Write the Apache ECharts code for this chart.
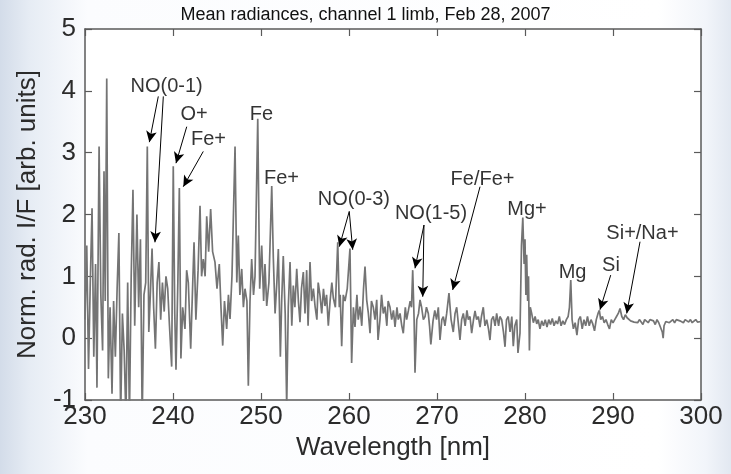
<!DOCTYPE html>
<html>
<head>
<meta charset="utf-8">
<script src="https://cdn.jsdelivr.net/npm/echarts@6/dist/echarts.min.js"></script>
<style>
html,body{margin:0;padding:0;}
#chart{width:731px;height:474px;}
</style>
</head>
<body>
<div id="chart"></div>
<script>
// Wavelength [nm] and normalised radiance
const wavelength = [
230.00,230.20,230.40,230.60,230.80,231.00,231.20,231.36,231.60,231.80,232.00,232.16,232.30,232.47,232.65,232.85,233.07,233.25,233.45,233.65,
233.85,234.05,234.25,234.45,234.65,234.85,235.05,235.25,235.45,235.65,235.90,236.10,236.30,236.50,236.70,236.90,237.08,237.25,237.45,237.62,
237.80,238.00,238.20,238.40,238.60,238.80,239.00,239.20,239.40,239.60,239.85,240.03,240.20,240.34,240.55,240.72,240.90,241.10,241.36,241.55,
241.74,242.01,242.20,242.39,242.60,242.85,243.07,243.25,243.44,243.65,243.83,244.05,244.28,244.50,244.77,245.00,245.26,245.45,245.65,245.85,
246.10,246.30,246.48,246.70,247.05,247.25,247.42,247.60,247.81,248.00,248.18,248.40,248.56,248.75,248.94,249.15,249.32,249.63,249.85,250.08,
250.30,250.45,250.65,250.90,251.22,251.40,251.60,251.80,251.97,252.20,252.35,252.53,252.75,252.92,253.10,253.30,253.50,253.67,253.85,254.06,
254.25,254.43,254.60,254.81,255.00,255.19,255.35,255.57,255.75,255.95,256.14,256.35,256.50,256.70,256.90,257.10,257.27,257.45,257.65,257.85,
258.05,258.22,258.45,258.72,258.90,259.00,259.17,259.35,259.55,259.80,260.11,260.30,260.50,260.68,260.90,261.05,261.25,261.45,261.65,261.82,
262.01,262.20,262.39,262.55,262.76,262.95,263.15,263.30,263.52,263.70,263.90,264.09,264.30,264.45,264.66,264.85,265.05,265.23,265.45,265.60,
265.80,266.00,266.17,266.40,266.55,266.74,266.95,267.10,267.24,267.40,267.50,267.70,267.90,268.07,268.25,268.45,268.64,268.80,269.01,269.15,
269.30,269.55,269.75,269.95,270.15,270.34,270.55,270.72,270.90,271.10,271.36,271.60,271.85,272.05,272.24,272.45,272.61,272.80,272.99,273.20,
273.40,273.56,273.75,273.94,274.15,274.32,274.50,274.70,274.89,275.05,275.26,275.45,275.65,275.85,276.02,276.20,276.40,276.60,276.78,277.00,
277.15,277.35,277.55,277.73,277.90,278.10,278.30,278.50,278.67,278.85,279.06,279.20,279.43,279.60,279.75,279.90,280.00,280.10,280.19,280.30,
280.40,280.50,280.60,280.76,280.95,281.15,281.33,281.50,281.70,281.90,282.10,282.30,282.50,282.70,282.90,283.10,283.30,283.50,283.70,283.90,
284.10,284.30,284.50,284.70,284.90,285.05,285.20,285.35,285.50,285.70,285.90,286.10,286.30,286.50,286.70,286.90,287.10,287.30,287.50,287.70,
287.90,288.10,288.30,288.45,288.60,288.80,289.00,289.20,289.40,289.60,289.80,290.00,290.20,290.40,290.60,290.80,291.00,291.20,291.40,291.60,
291.80,292.00,292.20,292.40,292.60,292.80,293.00,293.20,293.40,293.60,293.80,294.00,294.20,294.40,294.60,294.80,295.00,295.20,295.40,295.60,
295.70,295.80,296.00,296.20,296.40,296.60,296.80,297.00,297.20,297.40,297.60,297.80,298.00,298.20,298.40,298.60,298.80,299.00,299.20,299.40,
299.60,299.80,300.00
];
const radiance = [
0.3,1.5,-0.5,0.9,2.1,-0.3,1.2,-0.8,3.1,0.7,-0.2,2.7,0.6,4.2,-0.65,0.5,-0.9,0.6,-0.3,0.8,
1.7,-1.3,0.4,-0.2,-1.3,0.9,-1.3,1.0,2.4,0.2,2.0,0.5,1.6,-1.3,0.7,0.9,3.1,0.1,0.8,1.45,
0.5,-0.17,0.9,1.23,0.3,0.9,0.43,1.0,0.8,0.2,-0.46,2.78,0.4,-0.51,0.9,2.43,-0.33,0.5,0.15,1.1,
0.9,-0.17,0.7,1.55,0.3,1.1,2.14,1.0,1.28,1.0,1.97,1.4,2.09,1.4,1.23,0.8,1.2,0.5,-0.12,0.6,
0.15,0.7,0.31,1.0,3.1,0.9,1.66,0.7,1.12,0.5,0.8,0.6,-0.77,0.6,1.28,0.7,1.0,3.55,0.8,1.5,
0.6,1.2,0.52,0.9,2.46,1.3,0.4,0.9,1.44,-0.3,0.6,1.33,0.4,-1.1,0.5,1.23,0.2,0.85,0.5,1.12,
0.6,0.26,0.8,1.07,0.4,1.1,0.2,1.23,0.6,0.8,0.52,0.3,0.9,0.7,0.4,0.8,0.52,0.7,0.2,0.6,
0.9,0.65,0.5,1.55,0.5,0.7,-0.13,0.7,0.6,0.8,1.45,-0.4,0.5,0.18,0.7,0.3,0.51,0.2,0.8,1.16,
0.62,0.4,0.08,0.6,0.5,0.3,0.62,-0.03,0.3,0.7,0.4,0.51,0.2,0.6,0.5,0.3,0.45,0.18,0.5,0.3,
0.4,0.2,0.08,0.5,0.3,0.44,0.6,0.5,1.1,0.3,-0.56,0.3,0.4,0.62,0.5,0.3,0.35,0.5,0.4,0.2,
-0.1,0.28,0.45,0.3,0.5,-0.03,0.3,0.35,0.2,0.4,0.73,0.3,0.1,0.4,0.5,0.2,-0.03,0.3,0.4,0.2,
0.45,0.3,0.35,0.08,0.3,0.44,0.3,0.35,0.18,0.35,0.5,0.2,0.3,0.15,-0.03,0.3,0.35,0.2,0.4,0.2,
0.35,0.3,0.1,-0.14,0.3,0.35,0.1,0.35,-0.13,0.2,0.3,-0.24,0.08,1.5,1.95,1.2,1.6,0.7,1.35,0.6,
1.0,-0.2,0.5,0.4,0.25,0.35,0.23,0.3,0.15,0.28,0.2,0.3,0.18,0.3,0.22,0.32,0.2,0.28,0.23,0.35,
0.2,0.28,0.22,0.3,0.35,0.5,0.94,0.3,0.15,0.25,0.05,0.3,0.35,0.15,0.3,0.2,0.35,0.2,0.3,0.23,
0.12,0.3,0.4,0.45,0.3,0.35,0.25,0.3,0.22,0.15,0.3,0.25,0.3,0.35,0.4,0.48,0.35,0.3,0.38,0.33,
0.3,0.28,0.3,0.26,0.28,0.25,0.3,0.27,0.22,0.3,0.28,0.25,0.3,0.27,0.28,0.22,0.3,0.25,0.28,0.1,
0.0,0.2,0.27,0.3,0.25,0.28,0.3,0.25,0.3,0.27,0.28,0.3,0.25,0.3,0.27,0.26,0.3,0.25,0.28,0.3,
0.26,0.28,0.27
];
// Annotation texts and their anchor (wavelength, value)
const labelTexts = ['NO(0-1)','O+','Fe+','Fe','Fe+','NO(0-3)','NO(1-5)','Fe/Fe+','Mg+','Mg','Si','Si+/Na+'];
const labelX = [239.28,242.39,244.03,250.06,252.33,260.55,269.32,275.17,280.23,285.40,289.77,293.35];
const labelY = [4.07,3.62,3.21,3.62,2.59,2.25,2.01,2.57,2.08,1.06,1.18,1.70];
// Arrows: start (x,y) -> tip (x,y)
const arrowFromX = [238.33,238.90,241.56,243.44,260.03,260.03,268.52,268.52,274.89,289.74,293.07];
const arrowFromY = [3.91,3.91,3.42,3.02,2.05,2.05,1.83,1.83,2.45,1.02,1.56];
const arrowToX   = [237.31,237.95,240.34,241.17,258.90,260.42,267.50,268.38,271.78,288.52,291.56];
const arrowToY   = [3.17,1.55,2.83,2.45,1.48,1.43,1.13,0.67,0.78,0.46,0.40];

const xTicks = {min:230,max:300,interval:10};
const yTicks = {min:-1,max:5,interval:1};

const FONT = 'Liberation Sans, Arial, Helvetica, sans-serif';
const spectrum = wavelength.map((w,i)=>[w,radiance[i]]);
const labelData = labelTexts.map((t,i)=>[labelX[i],labelY[i],t]);
const arrowData = arrowFromX.map((x,i)=>[{coord:[x,arrowFromY[i]]},{coord:[arrowToX[i],arrowToY[i]]}]);

const frameColor = '#5a5a5a';
function xAx(pos, showLabel){
  return {type:'value', position:pos, min:xTicks.min, max:xTicks.max, interval:xTicks.interval,
    axisLine:{show:true,onZero:false,lineStyle:{color:frameColor,width:1.5}},
    axisTick:{show:true,inside:true,length:7,lineStyle:{color:frameColor,width:1.2}},
    axisLabel:{show:showLabel,fontFamily:FONT,fontSize:26,color:'#2b2b2b',margin:4},
    splitLine:{show:false},
    name: showLabel ? 'Wavelength [nm]' : '', nameLocation:'middle', nameGap:35,
    nameTextStyle:{fontFamily:FONT,fontSize:26,color:'#2b2b2b'}};
}
function yAx(pos, showLabel){
  return {type:'value', position:pos, min:yTicks.min, max:yTicks.max, interval:yTicks.interval,
    axisLine:{show:true,onZero:false,lineStyle:{color:frameColor,width:1.5}},
    axisTick:{show:true,inside:true,length:7,lineStyle:{color:frameColor,width:1.2}},
    axisLabel:{show:showLabel,fontFamily:FONT,fontSize:26,color:'#2b2b2b',margin:9},
    splitLine:{show:false},
    name: showLabel ? 'Norm. rad. I/F [arb. units]' : '', nameLocation:'middle', nameGap:44,
    nameTextStyle:{fontFamily:FONT,fontSize:26,color:'#2b2b2b'}};
}

const chart = echarts.init(document.getElementById('chart'), null, {renderer:'canvas'});
chart.setOption({
  animation:false,
  backgroundColor:{type:'linear',x:0,y:0,x2:1,y2:0,colorStops:[
    {offset:0,color:'#d3dce9'},{offset:0.04,color:'#e6ecf4'},{offset:0.12,color:'#fbfcfe'},
    {offset:0.9,color:'#ffffff'},{offset:0.965,color:'#f2f5fa'},{offset:1,color:'#e2e8f1'}]},
  title:{text:'Mean radiances, channel 1 limb, Feb 28, 2007', left:'center', top:1,
    textStyle:{fontFamily:FONT,fontSize:18,fontWeight:'normal',color:'#111'}},
  grid:{left:85,right:30,top:29,bottom:74,show:true,backgroundColor:'#ffffff',borderWidth:0},
  xAxis:[xAx('bottom',true), xAx('top',false)],
  yAxis:[yAx('left',true), yAx('right',false)],
  series:[
    {type:'line', data:spectrum, xAxisIndex:0, yAxisIndex:0, showSymbol:false, symbol:'none',
     clip:true, lineStyle:{color:'#747474',width:1.7}, z:2},
    {type:'scatter', data:labelData, xAxisIndex:0, yAxisIndex:0, symbolSize:0, z:5,
     label:{show:true, position:'inside', formatter:p=>p.data[2], fontFamily:FONT, fontSize:20, color:'#000'},
     markLine:{silent:true, symbol:['none','arrow'], symbolSize:[8,11], animation:false,
       lineStyle:{color:'#000',width:1,type:'solid'}, label:{show:false}, emphasis:{disabled:true},
       data:arrowData}}
  ]
});
</script>
</body>
</html>
